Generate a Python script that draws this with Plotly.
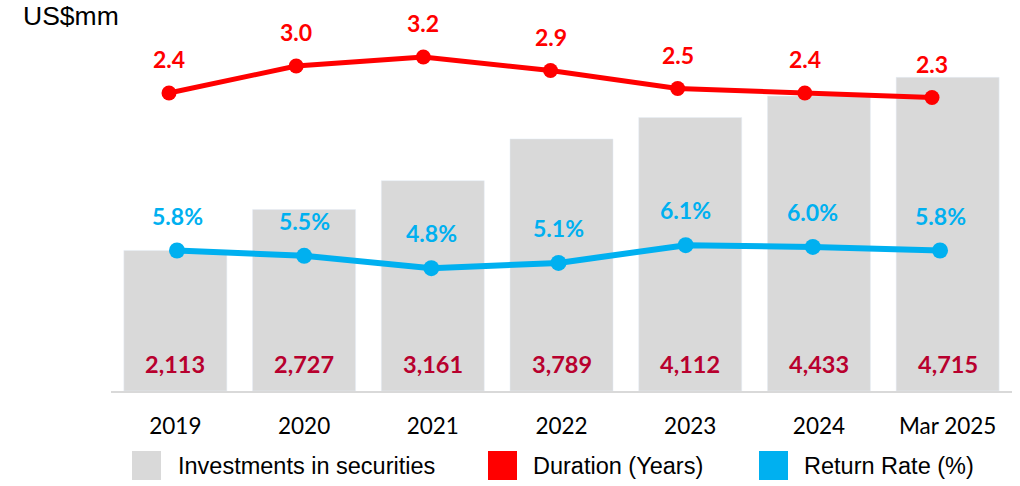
import plotly.graph_objects as go

categories = ["2019", "2020", "2021", "2022", "2023", "2024", "Mar 2025"]
investments = [2113, 2727, 3161, 3789, 4112, 4433, 4715]
duration = [2.4, 3.0, 3.2, 2.9, 2.5, 2.4, 2.3]
return_rate = [5.8, 5.5, 4.8, 5.1, 6.1, 6.0, 5.8]

inv_labels = [f"{v:,}" for v in investments]
dur_labels = [f"{v:.1f}" for v in duration]
ret_labels = [f"{v:.1f}%" for v in return_rate]

legend_names = ["Investments in securities", "Duration (Years)", "Return Rate (%)"]

GRAY = "#D9D9D9"
RED = "#FF0000"
BLUE = "#00B0F0"
DARKRED = "#B8002E"
LABEL_FONT = "Lato"

fig = go.Figure()

fig.add_trace(go.Bar(
    x=categories, y=investments, marker_color=GRAY, width=0.8,
    name=legend_names[0], xaxis="x", yaxis="y",
))
fig.add_trace(go.Scatter(
    x=categories, y=duration, mode="lines+markers",
    line=dict(color=RED, width=5), marker=dict(color=RED, size=15),
    name=legend_names[1], xaxis="x2", yaxis="y2",
))
fig.add_trace(go.Scatter(
    x=categories, y=return_rate, mode="lines+markers",
    line=dict(color=BLUE, width=6), marker=dict(color=BLUE, size=16),
    name=legend_names[2], xaxis="x3", yaxis="y3",
))

annotations = []
for i, (v, t) in enumerate(zip(investments, inv_labels)):
    annotations.append(dict(
        x=i, y=0, xref="x", yref="y", text=t, showarrow=False,
        yshift=27, yanchor="middle",
        font=dict(family=LABEL_FONT, size=23.5, color=DARKRED, weight="bold"),
    ))
for i, (v, t) in enumerate(zip(duration, dur_labels)):
    annotations.append(dict(
        x=i, y=v, xref="x2", yref="y2", text=t, showarrow=False,
        yshift=34, yanchor="middle",
        font=dict(family=LABEL_FONT, size=23, color=RED, weight="bold"),
    ))
for i, (v, t) in enumerate(zip(return_rate, ret_labels)):
    annotations.append(dict(
        x=i, y=v, xref="x3", yref="y3", text=t, showarrow=False,
        yshift=35, yanchor="middle",
        font=dict(family=LABEL_FONT, size=23, color=BLUE, weight="bold"),
    ))

# axis title
annotations.append(dict(
    x=(21 - 100) / 916.0, y=1.068, xref="paper", yref="paper", text="US$mm",
    showarrow=False, xanchor="left", yanchor="middle",
    font=dict(family="Liberation Sans, Arial", size=26.5, color="#000000"),
))

# manual legend
legend_colors = [GRAY, RED, BLUE]
legend_sq_x = [132, 488, 759]
legend_txt_x = [176, 531, 802]
shapes = []
def px_to_paper_x(px):
    return (px - 100) / 916.0
def px_to_paper_y(py):
    return (391 - py) / 351.0
for name, col, sx, tx in zip(legend_names, legend_colors, legend_sq_x, legend_txt_x):
    shapes.append(dict(
        type="rect", xref="paper", yref="paper",
        x0=px_to_paper_x(sx), x1=px_to_paper_x(sx + 29),
        y0=px_to_paper_y(480), y1=px_to_paper_y(451),
        fillcolor=col, line=dict(width=0),
    ))
    annotations.append(dict(
        x=px_to_paper_x(tx), y=px_to_paper_y(466), xref="paper", yref="paper",
        text=name, showarrow=False, xanchor="left", yanchor="middle",
        font=dict(family="Liberation Sans, Arial", size=23.5, color="#000000"),
    ))

cat_common = dict(type="category", categoryorder="array", categoryarray=categories)

fig.update_layout(
    width=1020, height=486, autosize=False,
    margin=dict(l=100, r=4, t=40, b=95, pad=0),
    paper_bgcolor="white", plot_bgcolor="rgba(0,0,0,0)",
    showlegend=False,
    xaxis=dict(
        **cat_common, domain=[11 / 916, 912 / 916], range=[-0.5, 6.5],
        showline=True, linecolor=GRAY, linewidth=2,
        showgrid=False, zeroline=False, ticks="",
        tickfont=dict(family=LABEL_FONT, size=22.5, color="#000000"),
        ticklabelstandoff=14,
    ),
    xaxis2=dict(**cat_common, overlaying="x", range=[-0.4561, 6.629], visible=False),
    xaxis3=dict(**cat_common, overlaying="x", range=[-0.519, 6.566], visible=False),
    yaxis=dict(range=[0, 5276], visible=False, showgrid=False, zeroline=False),
    yaxis2=dict(range=[-4.222, 3.578], overlaying="y", visible=False),
    yaxis3=dict(range=[-2.138, 17.693], overlaying="y", visible=False),
    annotations=annotations, shapes=shapes,
)

fig.write_html(
    "out.html",
    config={"displayModeBar": False},
    post_script="document.body.style.margin='0';document.body.style.overflow='hidden';",
)
